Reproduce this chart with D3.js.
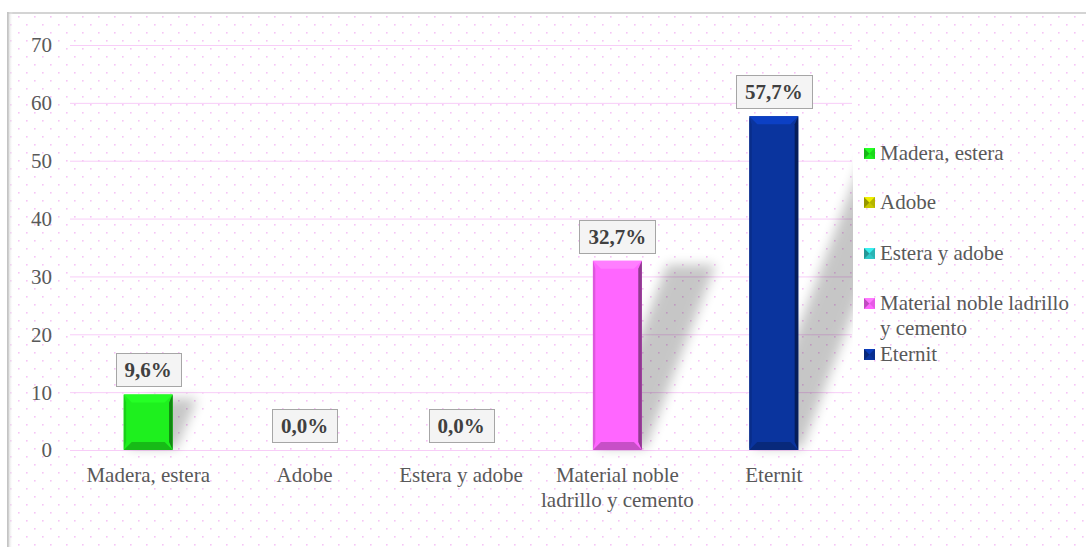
<!DOCTYPE html>
<html><head><meta charset="utf-8">
<script src="https://cdn.jsdelivr.net/npm/d3@7"></script>
<style>html,body{margin:0;padding:0;background:#fff;}svg{display:block;}
text{font-family:'Times New Roman','Liberation Serif',Tinos,serif;}</style>
</head><body>
<script>
const categories = ["Madera, estera", "Adobe", "Estera y adobe", "Material noble ladrillo y cemento", "Eternit"];
const categoryLines = [["Madera, estera"], ["Adobe"], ["Estera y adobe"], ["Material noble", "ladrillo y cemento"], ["Eternit"]];
const legendLines = [["Madera, estera"], ["Adobe"], ["Estera y adobe"], ["Material noble ladrillo", "y cemento"], ["Eternit"]];
const values = [9.6, 0.0, 0.0, 32.7, 57.7];
const valueLabels = ["9,6%", "0,0%", "0,0%", "32,7%", "57,7%"];
const colors = ["#1ef01e", "#c8c800", "#30c8c8", "#ff66ff", "#0a349e"];
const yTicks = [0, 10, 20, 30, 40, 50, 60, 70];

const FONT = "'Times New Roman', 'Liberation Serif', serif";
const W = 1086, H = 547;
const svg = d3.select("body").append("svg").attr("width", W).attr("height", H);
const defs = svg.append("defs");

const pat = defs.append("pattern").attr("id", "dots").attr("patternUnits", "userSpaceOnUse")
  .attr("width", 16).attr("height", 16).attr("x", 2).attr("y", 0);
pat.append("rect").attr("x", 0).attr("y", 0).attr("width", 1.6).attr("height", 1.6).attr("fill", "#f6c4f6");
pat.append("rect").attr("x", 8).attr("y", 8).attr("width", 1.6).attr("height", 1.6).attr("fill", "#f6c4f6");

const blur = defs.append("filter").attr("id", "blur").attr("x", "-50%").attr("y", "-50%").attr("width", "200%").attr("height", "200%");
blur.append("feGaussianBlur").attr("stdDeviation", 6);

const lg = defs.append("linearGradient").attr("id", "leftShade").attr("x1", 0).attr("x2", 1).attr("y1", 0).attr("y2", 0);
lg.append("stop").attr("offset", 0).attr("stop-color", "#bdbdbd");
lg.append("stop").attr("offset", 1).attr("stop-color", "#ffffff").attr("stop-opacity", 0);

defs.append("clipPath").attr("id", "plotClip").append("rect")
  .attr("x", 60).attr("y", 20).attr("width", 793).attr("height", 440);

// frame
svg.append("rect").attr("x", 8).attr("y", 13).attr("width", W - 8).attr("height", H - 13).attr("fill", "#fff");
svg.append("rect").attr("x", 8).attr("y", 13).attr("width", W - 8).attr("height", H - 13).attr("fill", "url(#dots)");
svg.append("rect").attr("x", 8).attr("y", 12).attr("width", W - 8).attr("height", 2).attr("fill", "#d4d4d4");
svg.append("rect").attr("x", 7).attr("y", 12).attr("width", 6).attr("height", H - 12).attr("fill", "url(#leftShade)");
svg.append("rect").attr("x", 7).attr("y", 12).attr("width", 1.5).attr("height", H - 12).attr("fill", "#c4c4c4");

const x = d3.scaleBand().domain(categories).range([70, 852]).padding(0);
const y = d3.scaleLinear().domain([0, 70]).range([450, 45]);
const barW = x.bandwidth() * 0.313;

// gridlines
svg.append("g").selectAll("line").data(yTicks).join("line")
  .attr("x1", 70).attr("x2", 852).attr("y1", d => y(d) + 0.5).attr("y2", d => y(d) + 0.5)
  .attr("stroke", "#f8cdf8").attr("stroke-width", 1);

// y axis labels
const yAxis = d3.axisLeft(y).tickValues(yTicks).tickSize(0).tickPadding(0).tickFormat(d3.format("d"));
const gy = svg.append("g").attr("transform", "translate(52,0)").call(yAxis);
gy.select(".domain").remove();
gy.attr("font-family", null);
gy.selectAll("text").style("font-family", FONT).attr("font-size", 21)
  .attr("fill", "#595959").attr("dy", "0.33em");

// shadows
const sh = svg.append("g").attr("clip-path", "url(#plotClip)");
categories.forEach((c, i) => {
  if (values[i] <= 0) return;
  const x0 = x(c) + (x.bandwidth() - barW) / 2, x1 = x0 + barW;
  const yb = y(0), yt = y(values[i]);
  const dx = (yb - yt) * 0.37;
  sh.append("path")
    .attr("d", `M${x0 + 4},${yb - 2} L${x1 + 4},${yb - 2} L${x1 + dx + 4},${yt + 4} L${x0 + dx + 4},${yt + 4} Z`)
    .attr("fill", "#000").attr("opacity", 0.22).attr("filter", "url(#blur)");
});

// bars with bevel
function bevelBar(g, x0, y0, w, h, col, b) {
  const x1 = x0 + w, y1 = y0 + h;
  const c = d3.color(col);
  const bb = Math.min(b, h / 2, w / 2);
  g.append("rect").attr("x", x0).attr("y", y0).attr("width", w).attr("height", h).attr("fill", c.formatHex());
  g.append("path").attr("d", `M${x0},${y0} L${x1},${y0} L${x1 - bb},${y0 + bb} L${x0 + bb},${y0 + bb} Z`)
    .attr("fill", c.brighter(0.6).formatHex());
  g.append("path").attr("d", `M${x0},${y1} L${x1},${y1} L${x1 - bb},${y1 - bb} L${x0 + bb},${y1 - bb} Z`)
    .attr("fill", c.darker(0.7).formatHex());
  g.append("path").attr("d", `M${x1},${y0} L${x1},${y1} L${x1 - bb * 0.45},${y1 - bb} L${x1 - bb * 0.45},${y0 + bb} Z`)
    .attr("fill", c.darker(1.6).formatHex());
  g.append("path").attr("d", `M${x0},${y0} L${x0},${y1} L${x0 + bb * 0.3},${y1 - bb} L${x0 + bb * 0.3},${y0 + bb} Z`)
    .attr("fill", c.darker(0.4).formatHex());
}
const bars = svg.append("g");
categories.forEach((c, i) => {
  if (values[i] <= 0) return;
  const x0 = x(c) + (x.bandwidth() - barW) / 2;
  bevelBar(bars, x0, y(values[i]), barW, y(0) - y(values[i]), colors[i], 8);
});

// value labels
const lab = svg.append("g");
categories.forEach((c, i) => {
  const cx = x(c) + x.bandwidth() / 2;
  const bottom = y(values[i]) - 8;
  const g = lab.append("g");
  const r = g.append("rect").attr("fill", "#f4f4f4").attr("stroke", "#a6a6a6").attr("stroke-width", 1);
  const t = g.append("text").attr("x", cx).attr("y", bottom - 16.5).attr("dy", "0.35em").attr("text-anchor", "middle")
    .style("font-family", FONT).attr("font-weight", "bold").attr("font-size", 21)
    .attr("fill", "#404040").text(valueLabels[i]);
  const tw = t.node().getComputedTextLength();
  const bw = Math.round(tw + 18);
  r.attr("x", Math.round(cx - bw / 2) + 0.5).attr("y", Math.round(bottom - 33) + 0.5).attr("width", bw).attr("height", 33);
});

// category labels
const xl = svg.append("g");
categories.forEach((c, i) => {
  const cx = x(c) + x.bandwidth() / 2;
  const t = xl.append("text").attr("text-anchor", "middle")
    .style("font-family", FONT).attr("font-size", 21).attr("fill", "#595959");
  categoryLines[i].forEach((ln, j) => {
    t.append("tspan").attr("x", cx).attr("y", 482 + j * 25).text(ln);
  });
});

// legend
const legY = [153, 202, 253, 303, 354];
const leg = svg.append("g");
categories.forEach((c, i) => {
  const yy = legY[i];
  const mx = 864, my = yy - 5, ms = 11;
  const col = d3.color(colors[i]);
  leg.append("rect").attr("x", mx).attr("y", my).attr("width", ms).attr("height", ms).attr("fill", col.formatHex());
  leg.append("path").attr("d", `M${mx},${my} L${mx + ms / 2},${my + ms / 2} L${mx},${my + ms} Z`).attr("fill", col.darker(0.8).formatHex());
  leg.append("path").attr("d", `M${mx},${my} L${mx + ms},${my} L${mx + ms / 2},${my + ms / 2} Z`).attr("fill", col.brighter(0.5).formatHex());
  leg.append("path").attr("d", `M${mx + ms},${my} L${mx + ms},${my + ms} L${mx + ms / 2},${my + ms / 2} Z`).attr("fill", col.darker(0.3).formatHex());
  const t = leg.append("text").style("font-family", FONT).attr("font-size", 21).attr("fill", "#595959");
  legendLines[i].forEach((ln, j) => {
    t.append("tspan").attr("x", 880).attr("y", yy + 7 + j * 25).text(ln);
  });
});
</script>
</body></html>
